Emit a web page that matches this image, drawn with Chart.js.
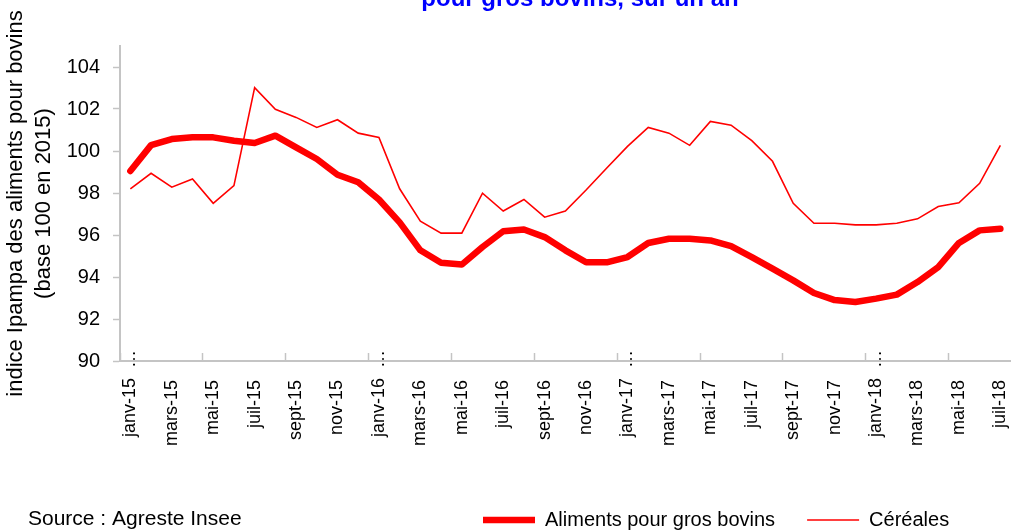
<!DOCTYPE html>
<html>
<head>
<meta charset="utf-8">
<script src="https://cdn.jsdelivr.net/npm/chart.js@4.4.1/dist/chart.umd.min.js"></script>
<style>
html,body{margin:0;padding:0;background:#fff;}
#wrap{position:relative;width:1019px;height:531px;}
</style>
</head>
<body>
<div id="wrap"><canvas id="c"></canvas></div>
<script>
// ---- data ----
const months = [
  'janv-15','févr-15','mars-15','avr-15','mai-15','juin-15','juil-15','août-15','sept-15','oct-15','nov-15','déc-15',
  'janv-16','févr-16','mars-16','avr-16','mai-16','juin-16','juil-16','août-16','sept-16','oct-16','nov-16','déc-16',
  'janv-17','févr-17','mars-17','avr-17','mai-17','juin-17','juil-17','août-17','sept-17','oct-17','nov-17','déc-17',
  'janv-18','févr-18','mars-18','avr-18','mai-18','juin-18','juil-18'
];
const aliments = [
  99.05, 100.28, 100.57, 100.65, 100.65, 100.49, 100.38, 100.73, 100.17, 99.62, 98.87, 98.51,
  97.69, 96.60, 95.27, 94.68, 94.59, 95.43, 96.18, 96.26, 95.90, 95.27, 94.70, 94.70,
  94.95, 95.62, 95.82, 95.82, 95.74, 95.47, 94.95, 94.40, 93.84, 93.24, 92.90, 92.81,
  92.97, 93.16, 93.76, 94.47, 95.62, 96.22, 96.30
];
const cereales = [
  98.20, 98.94, 98.28, 98.67, 97.51, 98.35, 103.02, 101.99, 101.60, 101.12, 101.49, 100.85,
  100.65, 98.20, 96.66, 96.09, 96.09, 97.99, 97.14, 97.69, 96.85, 97.14, 98.14, 99.19,
  100.22, 101.12, 100.85, 100.27, 101.41, 101.23, 100.49, 99.51, 97.51, 96.56, 96.56, 96.48,
  96.48, 96.56, 96.77, 97.36, 97.53, 98.46, 100.27
];
const yTicks = [90, 92, 94, 96, 98, 100, 102, 104];
const seriesNames = ['Aliments pour gros bovins', 'Céréales'];
const titleText = 'pour gros bovins, sur un an';
const yAxisTitle = ['indice Ipampa des aliments pour bovins', '(base 100 en 2015)'];
const sourceText = 'Source : Agreste Insee';

const FONT = '"Liberation Sans", Arial, Helvetica, sans-serif';
const AXIS_GRAY = '#c4c4c4';
Chart.defaults.font.family = FONT;
Chart.defaults.color = '#000';

const extras = {
  id: 'extras',
  beforeDraw(chart) {
    const lg = chart.legend;
    if (lg) { lg.left = 451; lg.top = 478; }
  },
  afterDraw(chart) {
    const ctx = chart.ctx;
    ctx.save();
    ctx.font = 'bold 24px ' + FONT;
    ctx.fillStyle = '#0000ff';
    ctx.textAlign = 'center';
    ctx.textBaseline = 'alphabetic';
    ctx.fillText(titleText, 580, 6);
    ctx.font = '21px ' + FONT;
    ctx.fillStyle = '#000';
    ctx.textAlign = 'left';
    ctx.textBaseline = 'middle';
    ctx.fillText(sourceText, 28, 519);
    ctx.restore();
  }
};

new Chart(document.getElementById('c'), {
  type: 'line',
  data: {
    labels: months,
    datasets: [
      {
        label: seriesNames[0],
        data: aliments,
        borderColor: '#ff0000',
        backgroundColor: '#ff0000',
        borderWidth: 6.5,
        borderCapStyle: 'round',
        borderJoinStyle: 'round',
        pointRadius: 0,
        tension: 0,
        fill: false
      },
      {
        label: seriesNames[1],
        data: cereales,
        borderColor: '#ff0000',
        backgroundColor: '#ff0000',
        borderWidth: 1.6,
        borderCapStyle: 'butt',
        borderJoinStyle: 'miter',
        pointRadius: 0,
        tension: 0,
        fill: false
      }
    ]
  },
  options: {
    responsive: true,
    maintainAspectRatio: false,
    animation: false,
    devicePixelRatio: 1,
    layout: { padding: { top: 46, right: 2, bottom: 0, left: 0 } },
    plugins: {
      tooltip: { enabled: false },
      title: { display: false },
      legend: {
        display: true,
        position: 'bottom',
        align: 'start',
        labels: {
          usePointStyle: true,
          pointStyle: 'line',
          pointStyleWidth: 52,
          padding: 32,
          color: '#000',
          font: { size: 20, family: FONT }
        }
      }
    },
    scales: {
      x: {
        type: 'category',
        offset: true,
        afterFit(scale) {
          scale.height = 108;
          // let the label ellipsis overlap the axis line, as in the original
          scale._computeLabelArea = function () { return undefined; };
        },
        grid: {
          offset: true,
          drawOnChartArea: false,
          drawTicks: true,
          tickLength: -8,
          tickWidth: 1.5,
          tickColor: (c) => (c.index !== undefined && c.index % 4 === 0) ? AXIS_GRAY : 'rgba(0,0,0,0)'
        },
        border: { display: true, color: AXIS_GRAY, width: 2 },
        ticks: {
          autoSkip: false,
          maxRotation: 90,
          minRotation: 90,
          padding: -3,
          color: '#000',
          font: { size: 18, family: FONT },
          callback: function (value, index) {
            if (index % 2) return '';
            const l = months[index];
            return l.startsWith('janv') ? l + '  \u2026' : l + '      ';
          }
        }
      },
      y: {
        min: 90,
        max: 105,
        afterFit(scale) { scale.width = 120; },
        afterBuildTicks(scale) { scale.ticks = yTicks.map(v => ({ value: v })); },
        grid: {
          drawOnChartArea: false,
          drawTicks: true,
          tickLength: 7,
          tickWidth: 1.5,
          tickColor: AXIS_GRAY
        },
        border: { display: true, color: AXIS_GRAY, width: 2 },
        ticks: {
          padding: 13,
          color: '#000',
          font: { size: 20, family: FONT }
        },
        title: {
          display: true,
          text: yAxisTitle,
          color: '#000',
          font: { size: 22, family: FONT, lineHeight: 1.27 },
          padding: { top: 2, bottom: 0 }
        }
      }
    }
  },
  plugins: [extras]
});
</script>
</body>
</html>
